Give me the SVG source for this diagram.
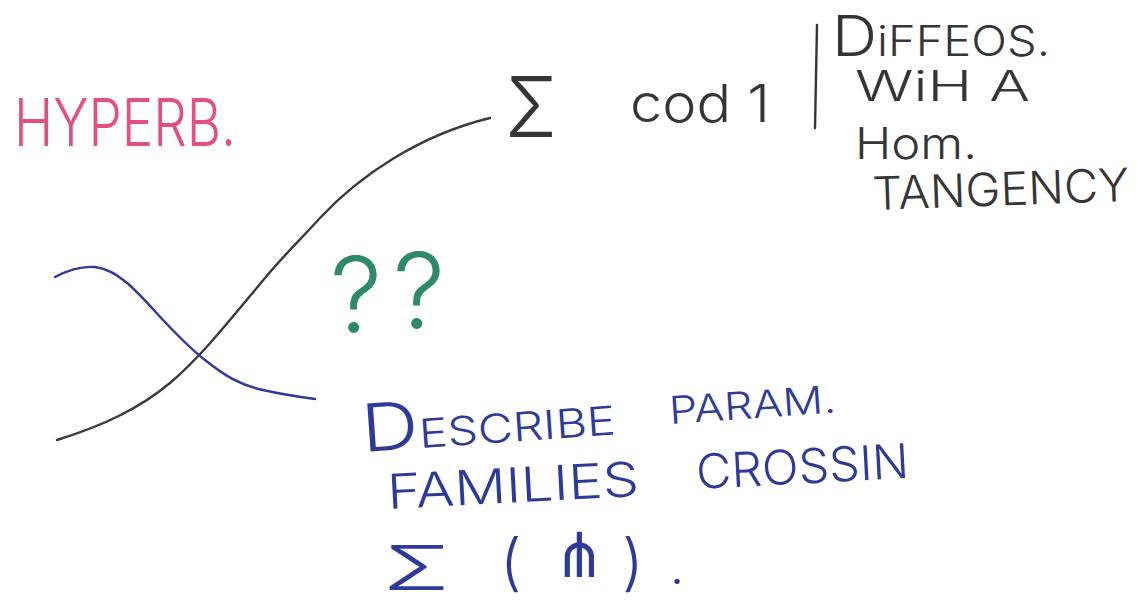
<svg xmlns="http://www.w3.org/2000/svg" width="1147" height="607" viewBox="0 0 1147 607">
<style>
  .hand { font-family: Inter, "Liberation Sans", sans-serif; font-weight: 300; }
  .pink { fill: #e4507e; }
  .ink { fill: #353535; }
  .green { fill: #2e8a6a; }
  .blue { fill: #2d3a9a; }
  .curve { fill: none; stroke-width: 2.4; stroke-linecap: round; }
</style>
<rect width="1147" height="607" fill="#ffffff"/>

<g id="curves">
  <path class="curve" stroke="#3a3a3a" d="M57,440 C105,425 140,408 170,383 C200,358 230,320 265,278 C285,254 300,240 320,218 C360,175 420,135 490,118"/>
  <path class="curve" stroke="#2d3a9a" d="M55,277 C70,269 82,266 95,267 C120,270 140,295 163,320 C180,338 192,350 205,360 C225,376 240,385 263,390 C285,395 300,397 315,399"/>
  <line x1="817" y1="25" x2="815" y2="128" stroke="#353535" stroke-width="2.4" stroke-linecap="round"/>
</g>

<g id="hyperb">
  <text class="hand pink" x="14" y="146" font-size="66" textLength="222" lengthAdjust="spacingAndGlyphs">HYPERB.</text>
</g>

<g id="sigma-cod">
  <text class="hand ink" x="505" y="137" font-size="84" textLength="52" lengthAdjust="spacingAndGlyphs">Σ</text>
  <text class="hand ink" x="630" y="122" font-size="52" textLength="140" lengthAdjust="spacingAndGlyphs">cod 1</text>
</g>

<g id="diffeos">
  <text class="hand ink" x="832" y="56" textLength="218" lengthAdjust="spacingAndGlyphs"><tspan font-size="56">D</tspan><tspan font-size="42">iFFEOS.</tspan></text>
  <text class="hand ink" x="855" y="101" font-size="42" textLength="175" lengthAdjust="spacingAndGlyphs">WiH A</text>
  <text class="hand ink" x="855" y="159" font-size="44" textLength="122" lengthAdjust="spacingAndGlyphs">Hom.</text>
  <text class="hand ink" x="873" y="210" font-size="46" textLength="257" lengthAdjust="spacingAndGlyphs" transform="rotate(-2 873 210)">TANGENCY</text>
</g>

<g id="questions">
  <text class="hand green" font-size="104"><tspan x="330" y="332">?</tspan><tspan x="393" y="328">?</tspan></text>
</g>

<g id="describe">
  <text class="hand blue" x="363" y="452" textLength="254" lengthAdjust="spacingAndGlyphs" transform="rotate(-4 363 452)"><tspan font-size="66">D</tspan><tspan font-size="40">ESCRIBE</tspan></text>
  <text class="hand blue" x="670" y="424" font-size="38" textLength="167" lengthAdjust="spacingAndGlyphs" transform="rotate(-4 670 424)">PARAM.</text>
  <text class="hand blue" x="388" y="509" font-size="48" textLength="252" lengthAdjust="spacingAndGlyphs" transform="rotate(-3 388 509)">FAMILIES</text>
  <text class="hand blue" x="697" y="489" font-size="48" textLength="213" lengthAdjust="spacingAndGlyphs" transform="rotate(-3 697 489)">CROSSIN</text>
  <text class="hand blue" x="383" y="590" font-size="62" textLength="67" lengthAdjust="spacingAndGlyphs">Σ</text>
  <text class="hand blue" x="500" y="584" font-size="62">(</text>
  <text class="blue" x="553" y="577" font-size="62" font-family="'DejaVu Sans', sans-serif">⋔</text>
  <text class="hand blue" x="622" y="584" font-size="62">)</text>
  <text class="hand blue" x="670" y="584" font-size="50">.</text>
</g>
</svg>
